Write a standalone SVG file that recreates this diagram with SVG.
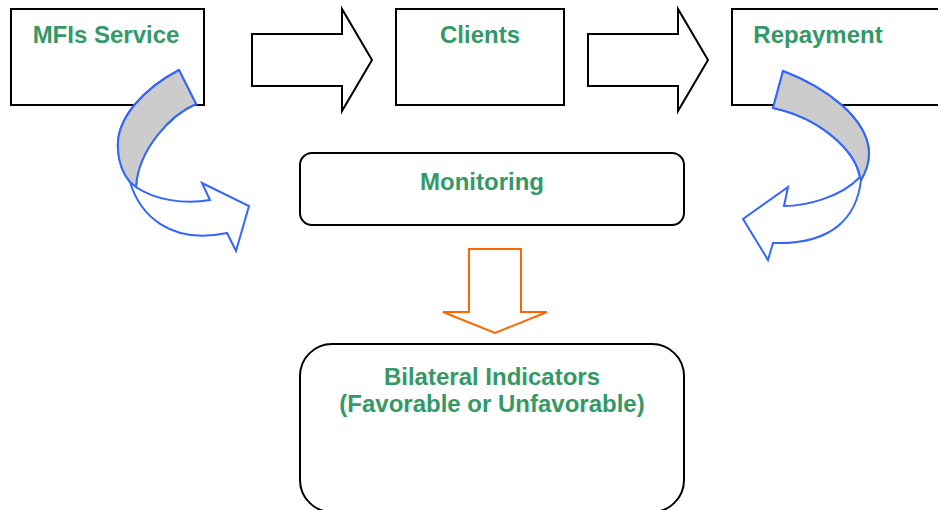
<svg xmlns="http://www.w3.org/2000/svg" width="938" height="510" viewBox="0 0 938 510">
<style>
.box{fill:#fff;stroke:#000;stroke-width:2}
.lbl{font-family:"Liberation Sans",Arial,sans-serif;font-weight:bold;font-size:24px;fill:#339966;text-anchor:middle}
.blk{fill:#fff;stroke:#000;stroke-width:2;stroke-linejoin:miter}
.blue{fill:#fff;stroke:#3366ff;stroke-width:2;stroke-linejoin:miter}
.gray{fill:#cccccc;stroke:#3366ff;stroke-width:2}
.org{fill:#fff;stroke:#ff6600;stroke-width:2}
</style>
<rect width="938" height="510" fill="#fff"/>
<g id="node-mfis">
<rect class="box" x="11" y="9" width="193" height="96"/>
<text class="lbl" x="106" y="43">MFIs Service</text>
</g>
<g id="node-clients">
<rect class="box" x="396" y="9" width="168" height="96"/>
<text class="lbl" x="480" y="43">Clients</text>
</g>
<g id="node-repayment">
<rect class="box" x="732" y="9" width="220" height="96"/>
<text class="lbl" x="818" y="43">Repayment</text>
</g>
<g id="node-monitoring">
<rect class="box" x="300" y="153" width="384" height="72" rx="12" ry="12"/>
<text class="lbl" x="482" y="190">Monitoring</text>
</g>
<g id="node-bilateral">
<rect class="box" x="300" y="344" width="384" height="168" rx="32" ry="32"/>
<text class="lbl" x="492" y="385">Bilateral Indicators</text>
<text class="lbl" x="492" y="412">(Favorable or Unfavorable)</text>
</g>
<g id="connectors">
<polygon class="blk" points="252,34 342,34 342,9 372,60 342,111 342,86 252,86"/>
<polygon class="blk" points="588,34 678,34 678,9 708,60 678,111 678,86 588,86"/>
<polygon class="org" points="469,249 521,249 521,312 547,312 495,333 443,312 469,312"/>
<path class="blue" d="M179,70 C145,88 115,118 118,150 C119,165 124,175 130,182 C140,215 170,245 227,233 L236,251 L249,206 L202,183 L210,200 C183,205 153,199 136,187 C138,150 170,115 196,104 Z"/>
<path class="gray" d="M179,70 C145,88 115,118 118,150 C119,165 124,175 130,182 L136,187 C138,150 170,115 196,104 Z"/>
<path class="blue" d="M783,71 C825,87 868,118 869,153 C869,165 864,175 861,180 C857,215 835,245 773,243 L768,260 L743,219 L788,187 L784,206 C805,206 840,198 860,177 C855,150 820,118 773,108 Z"/>
<path class="gray" d="M783,71 C825,87 868,118 869,153 C869,165 864,175 861,180 L860,177 C855,150 820,118 773,108 Z"/>
</g>
</svg>
